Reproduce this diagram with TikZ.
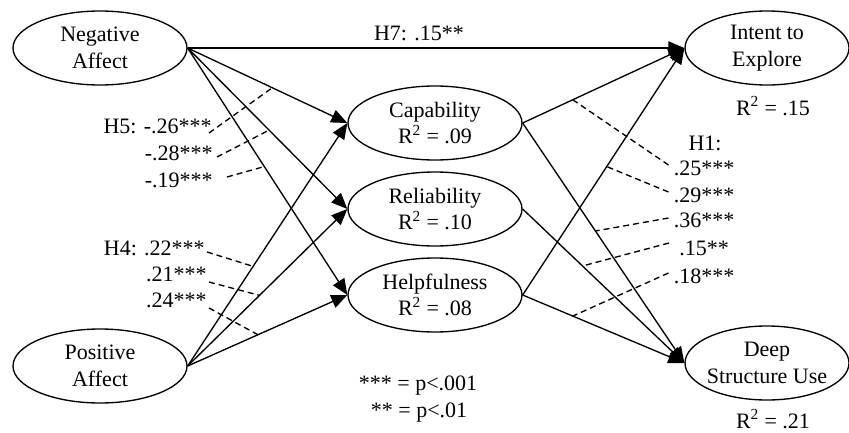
\documentclass[tikz,border=0pt]{standalone}
\usepackage{fontspec}
\setmainfont{Liberation Serif}
\usetikzlibrary{shapes,arrows.meta}
\tikzstyle{line} = [draw, line width=1pt, -{Triangle[length=12pt,width=10pt]}]
\tikzstyle{construct} = [draw, ellipse, line width=1pt, inner sep=0pt, align=center, minimum width=130.5pt, minimum height=55.5pt]
\tikzstyle{outcome} = [construct, minimum width=123pt, inner xsep=-3pt]
\tikzstyle{lead} = [draw, line width=1pt, dash pattern=on 4.5pt off 3pt]
\tikzstyle{coef} = [inner sep=0pt]

\begin{document}
\begin{tikzpicture}[x=0.75pt, y=-0.75pt, font=\fontsize{16.5}{20}\selectfont]
\useasboundingbox (0,0) rectangle (849,432);
%
\node[construct] (neg) at (100,48) {Negative\\Affect};
\node[construct] (pos) at (100,366) {Positive\\Affect};
\node[construct] (cap) at (435,123) {Capability\\R\textsuperscript{2} = .09};
\node[construct] (rel) at (435,209) {Reliability\\R\textsuperscript{2} = .10};
\node[construct] (help) at (435,295) {Helpfulness\\R\textsuperscript{2} = .08};
\node[outcome] (intent) at (767,48) {Intent to\\Explore};
\node[outcome] (deep) at (767,363) {Deep\\Structure Use};
%
\path[line] (neg.east) -- (intent.west);
\path[line] (neg.east) -- coordinate[pos=.53] (nc) (cap.west);
\path[line] (neg.east) -- coordinate[pos=.51] (nr) (rel.west);
\path[line] (neg.east) -- coordinate[pos=.48] (nh) (help.west);
\path[line] (pos.east) -- coordinate[pos=.41] (pc) (cap.west);
\path[line] (pos.east) -- coordinate[pos=.45] (pr) (rel.west);
\path[line] (pos.east) -- coordinate[pos=.44] (ph) (help.west);
%
\path[line] (cap.east) -- coordinate[pos=.31] (ci) (intent.west);
\path[line] (help.east) -- coordinate[pos=.52] (hi) (intent.west);
\path[line] (cap.east) -- coordinate[pos=.45] (cd) (deep.west);
\path[line] (rel.east) -- coordinate[pos=.37] (rd) (deep.west);
\path[line] (help.east) -- coordinate[pos=.31] (hd) (deep.west);
%
\node[coef, anchor=base] (h7) at (419,40) {H7: .15**};
%
\node[coef, anchor=base east] (h5a) at (212,133) {H5: -.26***};
\node[coef, anchor=base east] (h5b) at (213,160) {-.28***};
\node[coef, anchor=base east] (h5c) at (213,187) {-.19***};
\path[lead] ([shift={(-3,0)}]h5a.base east) -- (nc);
\path[lead] ([shift={(4,-3)}]h5b.base east) -- (nr);
\path[lead] ([shift={(14,-10)}]h5c.base east) -- (nh);
%
\node[coef, anchor=base east] (h4a) at (205,255) {H4: .22***};
\node[coef, anchor=base east] (h4b) at (207,281) {.21***};
\node[coef, anchor=base east] (h4c) at (207,307) {.24***};
\path[lead] ([shift={(2,-3)}]h4a.base east) -- (pc);
\path[lead] ([shift={(2,1)}]h4b.base east) -- (pr);
\path[lead] ([shift={(2,1)}]h4c.base east) -- (ph);
%
\node[coef, anchor=base] (h1) at (705,150) {H1:};
\node[coef, anchor=base] (h1a) at (704,175) {.25***};
\node[coef, anchor=base] (h1b) at (704,202) {.29***};
\node[coef, anchor=base] (h1c) at (704,227) {.36***};
\node[coef, anchor=base] (h1d) at (704,255) {.15**};
\node[coef, anchor=base] (h1e) at (704,283) {.18***};
\path[lead] ([shift={(-5,-10)}]h1a.base west) -- (ci);
\path[lead] ([shift={(-5,-10)}]h1b.base west) -- (hi);
\path[lead] ([shift={(-5,-9)}]h1c.base west) -- (cd);
\path[lead] ([shift={(-10,-12)}]h1d.base west) -- (rd);
\path[lead] ([shift={(-5,-10)}]h1e.base west) -- (hd);
%
\node[coef, anchor=base] (r2i) at (773,115) {R\textsuperscript{2} = .15};
\node[coef, anchor=base] (r2d) at (773,428) {R\textsuperscript{2} = .21};
%
\node[coef, anchor=base] (sig3) at (418,390) {*** = p<.001};
\node[coef, anchor=base] (sig2) at (419,417) {** = p<.01};
\end{tikzpicture}
\end{document}
